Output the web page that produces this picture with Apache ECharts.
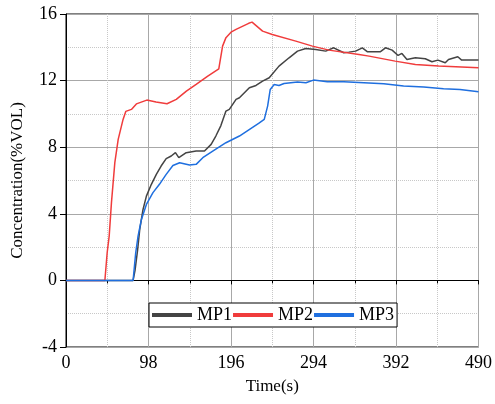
<!DOCTYPE html>
<html>
<head>
<meta charset="utf-8">
<script src="https://cdn.jsdelivr.net/npm/echarts@6/dist/echarts.min.js"></script>
<style>html,body{margin:0;padding:0;background:#fff}#c{width:495px;height:404px}</style>
</head>
<body>
<div id="c"></div>
<script>
var xTicks = [0, 98, 196, 294, 392, 490];
var yTicks = [-4, 0, 4, 8, 12, 16];
var seriesNames = ['MP1', 'MP2', 'MP3'];

var mp1 = [[0,0],[79.7,0],[82,0.6],[85,1.8],[87.6,3.06],[91.5,4.26],[95.5,5.06],[101.4,5.77],[107.3,6.37],[113,6.87],[119,7.31],[125,7.47],[130,7.67],[134,7.37],[142.8,7.67],[154.6,7.77],[164.5,7.77],[172.4,8.17],[178,8.67],[184,9.3],[190,10.17],[194,10.27],[202,10.87],[206,10.97],[217.8,11.57],[225.7,11.71],[233.5,11.97],[241.4,12.17],[253,12.87],[265,13.37],[275,13.77],[284.8,13.93],[296.7,13.87],[308.5,13.77],[318,13.97],[330,13.67],[336,13.71],[344,13.77],[352,13.97],[357.8,13.74],[373.6,13.74],[379.5,13.97],[387.4,13.83],[394.5,13.51],[399,13.63],[405,13.27],[415,13.37],[426.8,13.31],[434.7,13.13],[441.8,13.23],[450.5,13.07],[454.4,13.27],[465.4,13.43],[470,13.23],[490,13.23]];

var mp2 = [[0,0],[46.2,0],[48.9,1.66],[51.3,2.66],[54,4.67],[58,7.07],[62,8.47],[67.8,9.67],[71,10.15],[77.7,10.27],[83.6,10.6],[96,10.83],[107,10.71],[120,10.61],[131,10.87],[143,11.37],[154.6,11.77],[168.4,12.27],[181.5,12.71],[186,14.07],[190,14.58],[196,14.91],[202,15.08],[217,15.44],[221,15.51],[233.5,14.97],[245,14.77],[273,14.37],[292.7,14.07],[312.4,13.83],[348,13.57],[360,13.47],[391,13.17],[415,12.97],[442.6,12.87],[490,12.77]];

var mp3 = [[0,0],[79.7,0],[82.8,1.66],[85.6,2.66],[89.6,3.66],[95.5,4.56],[103.3,5.27],[111,5.77],[119,6.37],[127,6.9],[135,7.07],[146.7,6.93],[154.6,6.97],[162.5,7.37],[174.3,7.77],[190,8.27],[206,8.67],[228.8,9.43],[235.5,9.67],[239.5,10.47],[242.6,11.47],[247.3,11.77],[253,11.71],[259,11.83],[275,11.91],[285,11.87],[294,12.03],[310.4,11.93],[330,11.93],[354,11.87],[377.5,11.81],[401,11.67],[425,11.61],[448.5,11.51],[468,11.47],[490,11.33]];

var colors = ['#444444', '#f03c3c', '#1f6fdf'];
var font = "Liberation Serif";

var chart = echarts.init(document.getElementById('c'), null, {renderer: 'canvas'});
chart.setOption({
  animation: false,
  backgroundColor: '#fff',
  textStyle: {fontFamily: font},
  grid: {left: 66, right: 15, top: 14, bottom: 57, show: true, borderColor: '#000', borderWidth: 1, backgroundColor: 'transparent'},
  legend: {
    left: 149, top: 303,
    orient: 'horizontal',
    data: seriesNames,
    itemWidth: 40, itemHeight: 14, itemGap: 1,
    padding: [3, 3, 3, 3],
    borderColor: '#000', borderWidth: 1,
    backgroundColor: '#fff',
    icon: 'path://M0,0 L10,0 L10,1 L0,1 Z',
    textStyle: {fontFamily: font, fontSize: 18, color: '#000'}
  },
  xAxis: {
    type: 'value', min: xTicks[0], max: xTicks[xTicks.length - 1], interval: 98,
    name: 'Time(s)', nameLocation: 'middle', nameGap: 31,
    nameTextStyle: {fontFamily: font, fontSize: 17, color: '#000'},
    axisLine: {show: true, lineStyle: {color: '#000', width: 1}},
    axisTick: {show: true, length: 4, lineStyle: {color: '#000'}},
    minorTick: {show: true, splitNumber: 2, length: 3, lineStyle: {color: '#000'}},
    axisLabel: {fontFamily: 'serif', fontSize: 18, color: '#000', margin: 7, textStyle: {fontFamily: 'serif'}},
    splitLine: {show: true, lineStyle: {color: '#a8a8a8', width: 1}},
    minorSplitLine: {show: true, lineStyle: {color: '#c8c8c8', type: 'dotted', width: 1}}
  },
  yAxis: {
    type: 'value', min: yTicks[0], max: yTicks[yTicks.length - 1], interval: 4,
    name: 'Concentration(%VOL)', nameLocation: 'middle', nameGap: 40, nameRotate: 90,
    nameTextStyle: {fontFamily: font, fontSize: 17, color: '#000'},
    axisLine: {show: true, lineStyle: {color: '#000', width: 1}},
    axisTick: {show: true, length: 6, lineStyle: {color: '#000'}},
    minorTick: {show: false, splitNumber: 2},
    axisLabel: {fontFamily: 'Times New Roman', fontSize: 18, color: '#000', margin: 9, fontWeight: 'normal', fontStyle: 'normal'},
    splitLine: {show: true, lineStyle: {color: '#a8a8a8', width: 1}},
    minorSplitLine: {show: true, lineStyle: {color: '#c8c8c8', type: 'dotted', width: 1}}
  },
  series: [
    {name: seriesNames[0], type: 'line', data: mp1, showSymbol: false, symbol: 'none', lineStyle: {color: colors[0], width: 1.5}, itemStyle: {color: colors[0]}, z: 3},
    {name: seriesNames[1], type: 'line', data: mp2, showSymbol: false, symbol: 'none', lineStyle: {color: colors[1], width: 1.5}, itemStyle: {color: colors[1]}, z: 3},
    {name: seriesNames[2], type: 'line', data: mp3, showSymbol: false, symbol: 'none', lineStyle: {color: colors[2], width: 1.5}, itemStyle: {color: colors[2]}, z: 3}
  ]
});
</script>
</body>
</html>
